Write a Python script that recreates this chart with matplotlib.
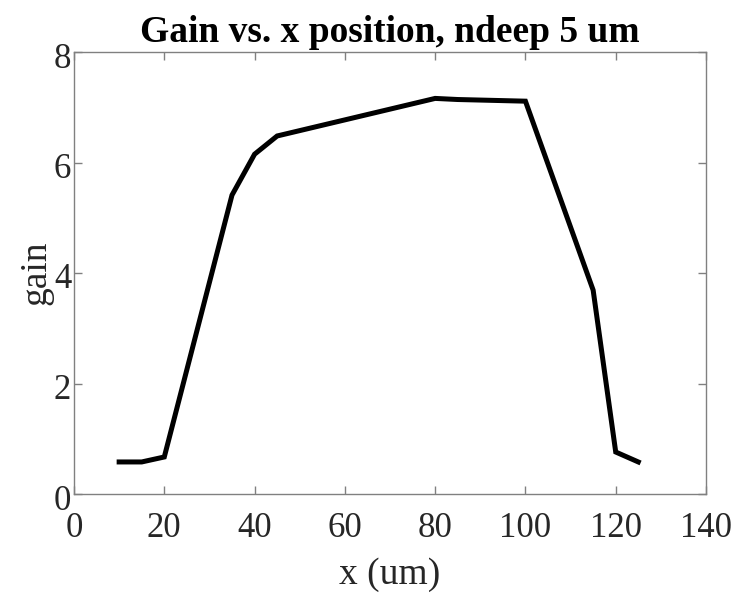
import matplotlib
matplotlib.use("Agg")
import matplotlib.pyplot as plt
import matplotlib.transforms as mtransforms

x_um = [10, 15, 20, 35, 40, 45, 80, 85, 95, 100, 115, 120, 125]
gain = [0.58, 0.58, 0.67, 5.41, 6.15, 6.48, 7.16, 7.14, 7.12, 7.11, 3.69, 0.76, 0.58]
xticks = [0, 20, 40, 60, 80, 100, 120, 140]
yticks = [0, 2, 4, 6, 8]

plt.rcParams['font.family'] = ['Liberation Serif', 'DejaVu Serif']

fig = plt.figure(figsize=(7.48, 5.93), dpi=100)
ax = fig.add_axes([74/748, 1 - 494/593, (706-74)/748, (494-52)/593])
ax.plot(x_um, gain, color='black', linewidth=3.6, solid_joinstyle='miter')
ax.set_xlim(0, 140)
ax.set_ylim(0, 8)
ax.set_xticks(xticks)
ax.set_yticks(yticks)
spine_col = '#808080'
for s in ax.spines.values():
    s.set_color(spine_col)
    s.set_linewidth(1.0)
ax.tick_params(direction='in', top=True, right=True, length=6, width=1.0,
               color=spine_col, labelcolor='#262626', labelsize=25)
ax.tick_params(axis='x', pad=13)
ax.tick_params(axis='y', pad=2)
offset = mtransforms.ScaledTranslation(0, -3/100, fig.dpi_scale_trans)
for lab in ax.get_yticklabels():
    lab.set_transform(lab.get_transform() + offset)
ax.set_xlabel('x (um)', fontsize=27, color='#262626', labelpad=9)
ax.set_ylabel('gain', fontsize=27, color='#262626', labelpad=0)
ax.set_title('Gain vs. x position, ndeep 5 um', fontsize=27, fontweight='bold', pad=7)
fig.savefig('out.png', dpi=100)
